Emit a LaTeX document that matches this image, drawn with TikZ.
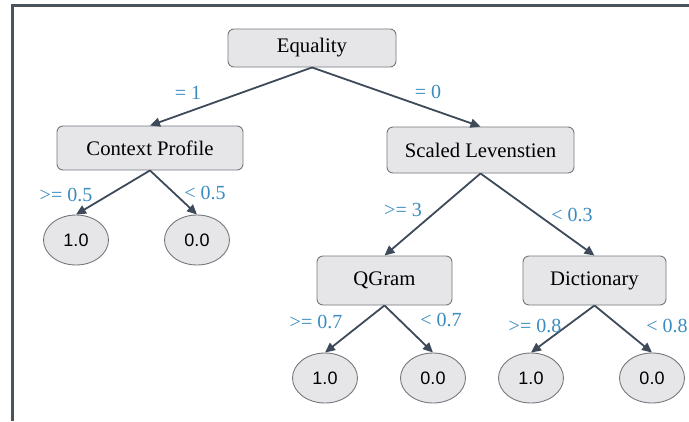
\documentclass[tikz,border=0pt]{standalone}
\usepackage{fontspec}
\setmainfont{Liberation Serif}
\newfontfamily\labsans{Liberation Sans}
\usetikzlibrary{arrows.meta,shapes.geometric}
\definecolor{boxfill}{RGB}{230,230,232}
\definecolor{boxdraw}{RGB}{118,120,126}
\definecolor{edgecol}{RGB}{62,74,90}
\definecolor{labcol}{RGB}{58,140,192}
\definecolor{framecol}{RGB}{75,84,92}
\begin{document}
\begin{tikzpicture}[x=1pt,y=-1pt,
  box/.style={draw=boxdraw, fill=boxfill, rounded corners=6pt, line width=0.9pt, inner sep=0pt, font=\fontsize{20.7}{24}\selectfont},
  leaf/.style={ellipse, draw=boxdraw, fill=boxfill, line width=0.9pt, minimum width=65pt, minimum height=50pt, inner sep=0pt, font=\labsans\fontsize{18}{20}\selectfont},
  arr/.style={draw=edgecol, line width=1.8pt, -{Triangle[length=10pt,width=9pt]}},
  lab/.style={text=labcol, font=\fontsize{20}{22}\selectfont, inner sep=0pt}]
\useasboundingbox (0,0) rectangle (689,421);
\fill[white] (0,0) rectangle (689,421);
\draw[framecol, line width=3pt] (689,5.5) -- (12.5,5.5) -- (12.5,421);

\node[box, minimum width=168pt, minimum height=38pt] (eq) at (312,48) {Equality};
\node[box, minimum width=186pt, minimum height=44pt] (cp) at (150,148) {Context Profile};
\node[box, minimum width=187pt, minimum height=46pt] (sl) at (480.5,150) {Scaled Levenstien};
\node[box, minimum width=135pt, minimum height=49pt] (qg) at (384.5,280.5) {QGram};
\node[box, minimum width=143pt, minimum height=49pt] (di) at (594.5,280.5) {Dictionary};

\node[leaf] (c1) at (76,240) {1.0};
\node[leaf] (c0) at (197,240) {0.0};
\node[leaf] (q1) at (325,378) {1.0};
\node[leaf] (q0) at (433,378) {0.0};
\node[leaf] (d1) at (531,378) {1.0};
\node[leaf] (d0) at (652,378) {0.0};

\draw[arr] (eq.south) -- (cp.north);
\draw[arr] (eq.south) -- (sl.north);
\draw[arr] (cp.south) -- (c1.north);
\draw[arr] (cp.south) -- (c0.north);
\draw[arr] (sl.south) -- (qg.north);
\draw[arr] (sl.south) -- (di.north);
\draw[arr] (qg.south) -- (q1.north);
\draw[arr] (qg.south) -- (q0.north);
\draw[arr] (di.south) -- (d1.north);
\draw[arr] (di.south) -- (d0.north);

\node[lab] (l1) at (188,93) {= 1};
\node[lab] (l2) at (428,92) {= 0};
\node[lab] (l3) at (66,195) {>= 0.5};
\node[lab] (l4) at (205,193) {< 0.5};
\node[lab] (l5) at (403,210) {>= 3};
\node[lab] (l6) at (572,215) {< 0.3};
\node[lab] (l7) at (316,322) {>= 0.7};
\node[lab] (l8) at (441,320) {< 0.7};
\node[lab] (l9) at (535,326) {>= 0.8};
\node[lab] (l10) at (667,326) {< 0.8};
\end{tikzpicture}
\end{document}
